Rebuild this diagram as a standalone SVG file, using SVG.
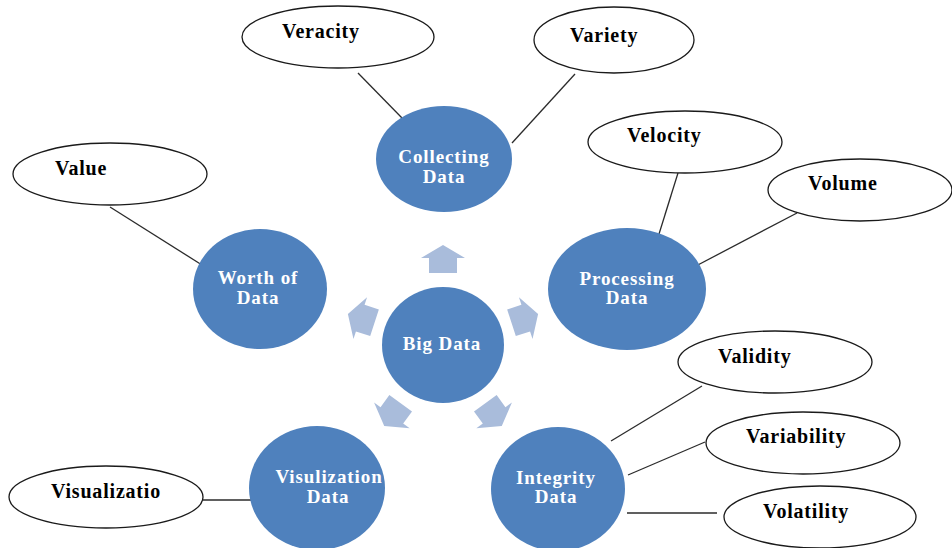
<svg xmlns="http://www.w3.org/2000/svg" width="952" height="548" viewBox="0 0 952 548">
<style>
.hub{fill:#4F81BD}
.ov{fill:#fff;stroke:#1a1a1a;stroke-width:1.3}
.ht{font-family:"Liberation Serif","Times New Roman",serif;font-weight:bold;font-size:19px;fill:#fff;text-anchor:middle;letter-spacing:0.9px}
.ot{font-family:"Liberation Serif","Times New Roman",serif;font-weight:bold;font-size:20px;fill:#000;letter-spacing:0.8px}
.ln{stroke:#2b2b2b;stroke-width:1.3;fill:none}
.ar{fill:#A9BCDB}
</style>
<defs>
<path id="arr" d="M443 245 L465 258 L457 258 L457 273 L429 273 L429 258 L421 258 Z"/>
</defs>
<rect width="952" height="548" fill="#fff"/>
<g id="connectors">
<line class="ln" x1="358" y1="73" x2="402" y2="118"/>
<line class="ln" x1="575" y1="74" x2="512" y2="143"/>
<line class="ln" x1="678" y1="173" x2="659" y2="234"/>
<line class="ln" x1="797" y1="213" x2="694" y2="267"/>
<line class="ln" x1="110" y1="207" x2="202" y2="265"/>
<line class="ln" x1="702" y1="386" x2="611" y2="441"/>
<line class="ln" x1="705" y1="442" x2="628" y2="475"/>
<line class="ln" x1="627" y1="513" x2="717" y2="513"/>
<line class="ln" x1="203" y1="500" x2="260" y2="500"/>
<g class="ar">
<use href="#arr"/>
<use href="#arr" transform="rotate(72 443 345)"/>
<use href="#arr" transform="rotate(144 443 345)"/>
<use href="#arr" transform="rotate(216 443 345)"/>
<use href="#arr" transform="rotate(288 443 345)"/>
</g>
</g>
<g id="big-data"><ellipse class="hub" cx="443" cy="345" rx="61" ry="58"/><text class="ht" x="442" y="350">Big Data</text></g>
<g id="collecting-data"><ellipse class="hub" cx="444" cy="159" rx="68" ry="53"/><text class="ht" x="444" y="163">Collecting</text><text class="ht" x="444" y="183">Data</text></g>
<g id="processing-data"><ellipse class="hub" cx="627" cy="289" rx="79" ry="61"/><text class="ht" x="627" y="285">Processing</text><text class="ht" x="627" y="304">Data</text></g>
<g id="worth-of-data"><ellipse class="hub" cx="260" cy="289" rx="67" ry="60"/><text class="ht" x="258" y="284">Worth of</text><text class="ht" x="258" y="304">Data</text></g>
<g id="visulization-data"><ellipse class="hub" cx="317" cy="488" rx="68" ry="62"/><text class="ht" x="329" y="483">Visulization</text><text class="ht" x="328" y="503">Data</text></g>
<g id="integrity-data"><ellipse class="hub" cx="558" cy="489" rx="67" ry="62"/><text class="ht" x="556" y="484">Integrity</text><text class="ht" x="556" y="503">Data</text></g>
<g id="veracity"><ellipse class="ov" cx="338" cy="37" rx="96" ry="31"/><text class="ot" x="282" y="38">Veracity</text></g>
<g id="variety"><ellipse class="ov" cx="614" cy="40" rx="80" ry="33"/><text class="ot" x="570" y="42">Variety</text></g>
<g id="velocity"><ellipse class="ov" cx="685" cy="142" rx="97" ry="31"/><text class="ot" x="627" y="142">Velocity</text></g>
<g id="volume"><ellipse class="ov" cx="860" cy="190" rx="92" ry="31"/><text class="ot" x="808" y="190">Volume</text></g>
<g id="value"><ellipse class="ov" cx="110" cy="174" rx="97" ry="31"/><text class="ot" x="55" y="175">Value</text></g>
<g id="validity"><ellipse class="ov" cx="775" cy="362" rx="97" ry="31"/><text class="ot" x="718" y="363">Validity</text></g>
<g id="variability"><ellipse class="ov" cx="803" cy="443" rx="97" ry="31"/><text class="ot" x="746" y="443">Variability</text></g>
<g id="volatility"><ellipse class="ov" cx="820" cy="517" rx="96" ry="31"/><text class="ot" x="763" y="518">Volatility</text></g>
<g id="visualizatio"><ellipse class="ov" cx="106" cy="497" rx="97" ry="31"/><text class="ot" x="51" y="498">Visualizatio</text></g>
</svg>
